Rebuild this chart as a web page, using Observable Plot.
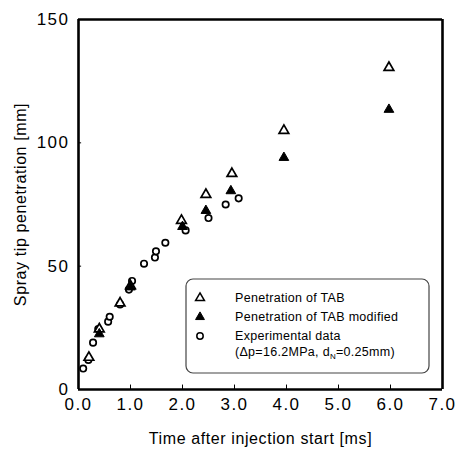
<!DOCTYPE html>
<html>
<head>
<meta charset="utf-8">
<script src="https://cdn.jsdelivr.net/npm/d3@7"></script>
<script src="https://cdn.jsdelivr.net/npm/@observablehq/plot@0.6"></script>
<style>
  html, body { margin: 0; padding: 0; background: #fff; }
  svg { font-family: "Liberation Sans", Arial, Helvetica, sans-serif; }
</style>
</head>
<body>
<div id="chart"></div>
<script>
// Experimental data (open circles)
const expT = [0.09, 0.19, 0.28, 0.38, 0.57, 0.60, 0.80, 0.97, 1.03, 1.26, 1.47, 1.49, 1.67, 2.06, 2.50, 2.83, 3.08];
const expV = [8.5, 12, 19, 24.5, 27.5, 29.5, 34.5, 40.5, 44, 51, 53.5, 56, 59.5, 64.5, 69.5, 75, 77.5];
// Penetration of TAB (open triangles)
const tabT = [0.20, 0.40, 0.80, 1.00, 1.98, 2.45, 2.95, 3.95, 5.97];
const tabV = [13, 24.5, 35, 42, 68.5, 79, 87.5, 105, 130.5];
// Penetration of TAB modified (filled triangles)
const modT = [0.40, 1.00, 2.00, 2.45, 2.93, 3.95, 5.97];
const modV = [22.5, 41.5, 66, 72.5, 80.5, 94, 113.5];
// Axis ticks
const xTicks = [0, 1, 2, 3, 4, 5, 6, 7];
const yTicks = [0, 50, 100, 150];
const xTitle = "Time after injection start [ms]";
const yTitle = "Spray tip penetration [mm]";
const legendLabels = ["Penetration of TAB", "Penetration of TAB modified", "Experimental data"];

const exp = expT.map((t, i) => ({t, v: expV[i]}));
const tab = tabT.map((t, i) => ({t, v: tabV[i]}));
const mod = modT.map((t, i) => ({t, v: modV[i]}));

const plot = Plot.plot({
  width: 460,
  height: 453,
  marginLeft: 78,
  marginRight: 18,
  marginTop: 19,
  marginBottom: 64,
  style: {fontFamily: '"Liberation Sans", Arial, sans-serif', background: "#fff"},
  x: {domain: [0, 7]},
  y: {domain: [0, 150]},
  marks: [
    Plot.ruleX(xTicks.slice(1, -1), {y1: 0, y2: 1.8, stroke: "black", strokeWidth: 1}),
    Plot.ruleY(yTicks.slice(1, -1), {x1: 0, x2: 0.06, stroke: "black", strokeWidth: 1}),
    Plot.axisX({
      ticks: xTicks, tickSize: 0, tickPadding: 8, tickFormat: d3.format(".1f"),
      fontSize: 17, label: xTitle, labelAnchor: "center", labelArrow: "none", labelOffset: 54
    }),
    Plot.axisY({
      ticks: yTicks, tickSize: 0, tickPadding: 9, fontSize: 17,
      label: yTitle, labelAnchor: "center", labelArrow: "none", labelOffset: 64
    }),
    Plot.dot(exp, {x: "t", y: "v", symbol: "circle", r: 3.2, fill: "white", stroke: "black", strokeWidth: 1.7}),
    Plot.dot(tab, {x: "t", y: "v", symbol: "triangle", r: 3.6, fill: "white", stroke: "black", strokeWidth: 1.7}),
    Plot.dot(mod, {x: "t", y: "v", symbol: "triangle", r: 3.6, fill: "black", stroke: "black", strokeWidth: 1}),
    Plot.ruleX([0, 7], {stroke: "black", strokeWidth: 2.6}),
    Plot.ruleY([0, 150], {stroke: "black", strokeWidth: 2.6})
  ]
});

document.getElementById("chart").appendChild(plot);

const svg = d3.select(plot);
svg.selectAll("[aria-label='x-axis tick label'] text, [aria-label='y-axis tick label'] text")
  .attr("letter-spacing", "1.5px");
svg.selectAll("[aria-label='x-axis label'] text, [aria-label='y-axis label'] text")
  .attr("font-size", 16).attr("letter-spacing", "0.6px");
svg.selectAll("[aria-label='x-axis label'], [aria-label='y-axis label']")
  .attr("font-size", 16);

// Legend box
const lg = svg.append("g").attr("font-size", 12.5).attr("fill", "black").attr("text-anchor", "start");
lg.append("rect")
  .attr("x", 186).attr("y", 279).attr("width", 243).attr("height", 94)
  .attr("rx", 7).attr("fill", "white").attr("stroke", "#444").attr("stroke-width", 1.2);
const symX = 200;
const rowsY = [298, 317, 336];
const tri = d3.symbol(d3.symbolTriangle, 34)();
lg.append("path").attr("d", tri).attr("transform", `translate(${symX},${rowsY[0]})`)
  .attr("fill", "white").attr("stroke", "black").attr("stroke-width", 1.5);
lg.append("path").attr("d", tri).attr("transform", `translate(${symX},${rowsY[1]})`)
  .attr("fill", "black").attr("stroke", "black");
lg.append("circle").attr("cx", symX).attr("cy", rowsY[2]).attr("r", 3.2)
  .attr("fill", "white").attr("stroke", "black").attr("stroke-width", 1.5);
legendLabels.forEach((s, i) => {
  lg.append("text").attr("x", 235).attr("y", rowsY[i]).attr("dy", "0.35em")
    .attr("letter-spacing", "0.3px").text(s);
});
const t4 = lg.append("text").attr("x", 235).attr("y", 352).attr("dy", "0.35em").attr("letter-spacing", "0.3px");
t4.append("tspan").text("(Δp=16.2MPa, d");
t4.append("tspan").attr("font-size", 8).attr("dy", 3).text("N");
t4.append("tspan").attr("dy", -3).text("=0.25mm)");
</script>
</body>
</html>
